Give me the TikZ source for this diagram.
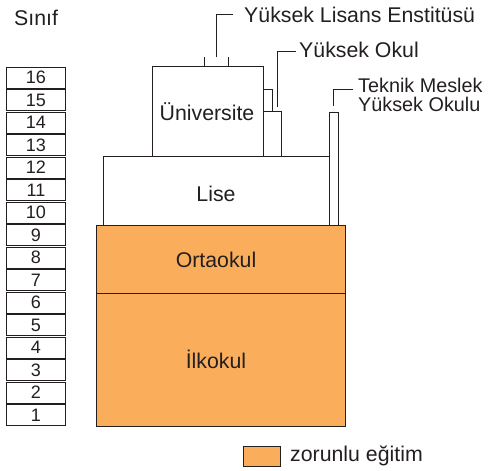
\documentclass[tikz,border=0pt]{standalone}
\usepackage{fontspec}
\setmainfont{Liberation Sans}
\definecolor{orangefill}{RGB}{250,174,92}
\definecolor{linegray}{RGB}{35,31,32}
\begin{document}
\begin{tikzpicture}[x=1pt,y=-1pt,
  every node/.style={font=\fontsize{21.3}{19.5}\selectfont, text=linegray},
  box/.style={draw=linegray, line width=1pt},
  grade/.style={draw=linegray, line width=1pt, minimum width=59pt, minimum height=21pt, inner sep=0pt, anchor=north west, font=\fontsize{18}{20}\selectfont},
  lead/.style={draw=linegray, line width=0.9pt}]
\useasboundingbox (0,0) rectangle (491,471);
\node[anchor=west, inner sep=0pt] (sinif) at (14,18) {Sınıf};
% grade boxes
\foreach \g [evaluate=\g as \yy using {66+(16-\g)*22.5}] in {1,...,16}{
  \node[grade] (g\g) at (6,\yy+0.6) {\g};
}
% orange blocks
\draw[box, fill=orangefill] (96.5,225) rectangle (345,426);
\draw[box] (96.5,293) -- (345,293);
\node (ilkokul) at (216,359) {İlkokul};
\node (ortaokul) at (216,260) {Ortaokul};
% Lise
\draw[box, fill=white] (103,156) rectangle (329,225);
\node (lise) at (216,194) {Lise};
% Universite
\draw[box, fill=white] (152,66) rectangle (263,156);
\node (uni) at (207,112) {Üniversite};
% Yuksek Okul boxes
\draw[box] (263,89) -- (272,89) -- (272,111);
\draw[box] (263,111) -- (281,111) -- (281,156);
% Teknik Meslek box
\draw[box] (329,225) -- (329,112) -- (338,112) -- (338,225);
% Yuksek Lisans ticks
\draw[lead] (204,57) -- (204,66);
\draw[lead] (228,57) -- (228,66);
\coordinate (yl1) at (216,57);
\coordinate (yl2) at (216,14);
\coordinate (yl3) at (233,14);
\draw[lead] (yl1) -- (yl2) -- (yl3);
\node[anchor=west, inner sep=0pt] (ylisans) at (244,15) {Yüksek Lisans Enstitüsü};
% Yuksek Okul pointer
\coordinate (yo1) at (277,107);
\coordinate (yo2) at (277,51);
\coordinate (yo3) at (296,51);
\draw[lead] (yo1) -- (yo2) -- (yo3);
\node[anchor=west, inner sep=0pt] (yokul) at (299,50) {Yüksek Okul};
% Teknik Meslek pointer
\coordinate (tm1) at (333,106);
\coordinate (tm2) at (333,89);
\coordinate (tm3) at (353,89);
\draw[lead] (tm1) -- (tm2) -- (tm3);
\node[anchor=west, inner sep=0pt, align=left, font=\fontsize{19.8}{19.5}\selectfont] (teknik) at (358,95) {Teknik Meslek\\Yüksek Okulu};
% legend
\draw[box, fill=orangefill] (243,446) rectangle (280,466);
\node[anchor=west, inner sep=0pt] (leg) at (290,456) {zorunlu eğitim};
\end{tikzpicture}
\end{document}
